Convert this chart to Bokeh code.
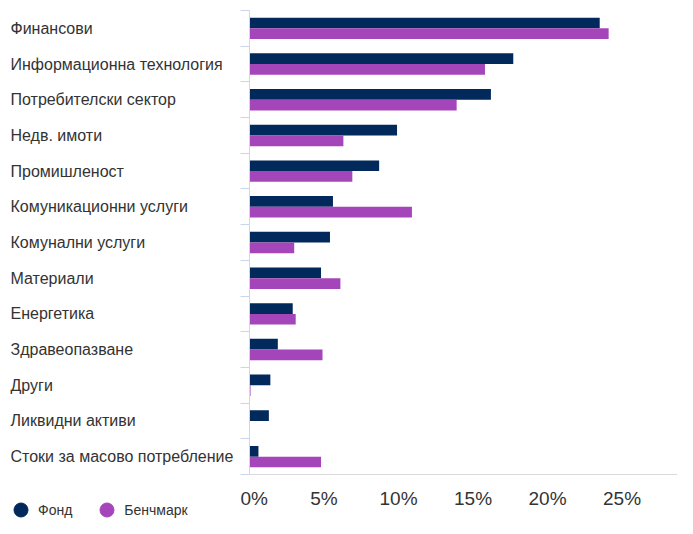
from bokeh.plotting import figure
from bokeh.layouts import row
from bokeh.models import (ColumnDataSource, Range1d, FixedTicker, PrintfTickFormatter,
                          CustomJSTickFormatter, Legend, LegendItem)
from bokeh.transform import dodge
from bokeh.core.properties import value
from bokeh.embed import file_html
from bokeh.resources import INLINE

categories = ["Финансови", "Информационна технология", "Потребителски сектор", "Недв. имоти",
              "Промишленост", "Комуникационни услуги", "Комунални услуги", "Материали",
              "Енергетика", "Здравеопазване", "Други", "Ликвидни активи",
              "Стоки за масово потребление"]
fund = [23.5, 17.7, 16.2, 9.9, 8.7, 5.6, 5.4, 4.8, 2.9, 1.9, 1.4, 1.3, 0.6]
bench = [24.1, 15.8, 13.9, 6.3, 6.9, 10.9, 3.0, 6.1, 3.1, 4.9, 0.07, 0.0, 4.8]
series_names = ["Фонд", "Бенчмарк"]
x_ticks = [0, 5, 10, 15, 20, 25]

FUND_C = "#01295C"
BENCH_C = "#A446B9"
FONT = "Liberation Sans"
TEXT_C = "#333333"

n = len(categories)
src = ColumnDataSource(dict(y=[i + 0.5 for i in range(n)], cat=categories, fund=fund, bench=bench))

H = 518
TOP = 10
BOTTOM = 44
LEFT_W = 240
BAR_W = 437
px_per_unit = (H - TOP - BOTTOM) / n

# ---- bars figure ----
p = figure(width=BAR_W, height=H, output_backend="svg", toolbar_location=None, title=None,
           x_range=Range1d(0, 28.72), y_range=Range1d(n, 0),
           min_border_left=9, min_border_right=0, min_border_top=TOP, min_border_bottom=BOTTOM)
p.frame_align = False
p.outline_line_color = None
p.grid.visible = False

p.hbar(y=dodge("y", -0.15), left=0, right="fund", height=0.3, source=src,
       fill_color=FUND_C, line_color=None)
p.hbar(y=dodge("y", 0.15), left=0, right="bench", height=0.3, source=src,
       fill_color=BENCH_C, line_color=None)

xa = p.xaxis[0]
xa.ticker = FixedTicker(ticks=x_ticks)
xa.formatter = PrintfTickFormatter(format="%d%%")
xa.axis_line_color = "#d9d9d9"
xa.major_tick_line_color = None
xa.minor_tick_line_color = None
xa.major_label_standoff = 7
xa.major_label_text_font = FONT
xa.major_label_text_font_size = "19px"
xa.major_label_text_color = TEXT_C

ya = p.yaxis[0]
ya.ticker = FixedTicker(ticks=list(range(n + 1)))
ya.formatter = CustomJSTickFormatter(code="return ''")
ya.axis_line_color = "#d6d6d6"
ya.major_tick_line_color = "#ccd6eb"
ya.major_tick_out = 9
ya.major_tick_in = 0
ya.minor_tick_line_color = None
ya.major_label_standoff = 0

# ---- category labels + legend figure (same vertical scale, full-height frame) ----
lab = figure(width=LEFT_W, height=H, output_backend="svg", toolbar_location=None, title=None,
             x_range=Range1d(0, LEFT_W),
             y_range=Range1d(n + BOTTOM / px_per_unit, -TOP / px_per_unit),
             x_axis_location=None, y_axis_location=None, min_border=0)
lab.frame_align = False
lab.grid.visible = False
lab.outline_line_color = None
lab.text(x=10, y="y", text="cat", source=src, text_align="left", text_baseline="middle",
         text_font=value(FONT), text_font_size="16px", text_color=TEXT_C)

# legend proxies (single point kept outside the visible range)
s1 = lab.scatter(x=[-1000], y=[0], marker="circle", fill_color=FUND_C, line_color=FUND_C)
s2 = lab.scatter(x=[-1000], y=[0], marker="circle", fill_color=BENCH_C, line_color=BENCH_C)
legend = Legend(items=[LegendItem(label=series_names[0], renderers=[s1]),
                       LegendItem(label=series_names[1], renderers=[s2])],
                orientation="horizontal", location=(3, -9),
                glyph_width=35, glyph_height=35, label_standoff=0, spacing=17,
                padding=0, margin=0, border_line_color=None, background_fill_alpha=0,
                label_text_font=FONT, label_text_font_size="14px", label_text_color=TEXT_C)
lab.add_layout(legend)

layout = row(lab, p)
open("out.html", "w").write(file_html(layout, INLINE))
